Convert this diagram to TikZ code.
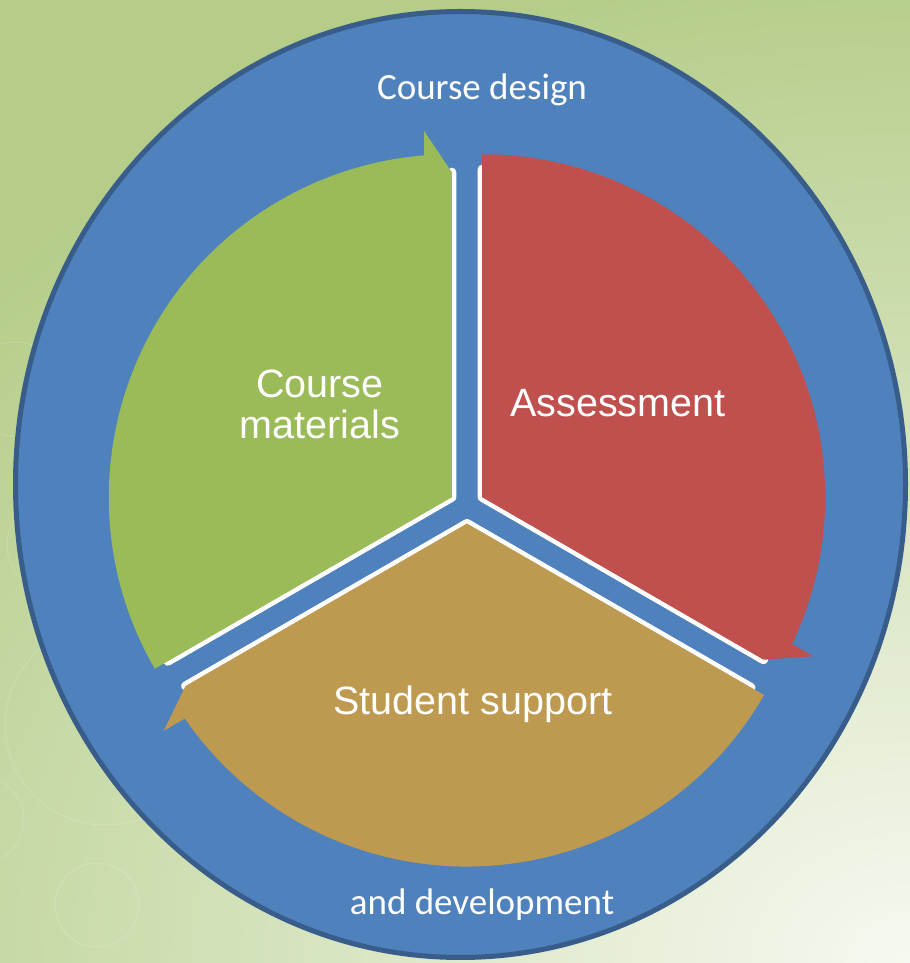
\documentclass[tikz,border=0pt]{standalone}
\usepackage{fontspec}
\setmainfont{Liberation Sans}
\newfontfamily\calibri{Carlito}
\definecolor{bgGreen}{HTML}{B5CD89}
\definecolor{bgLight}{HTML}{F6F9F1}
\definecolor{ringBlue}{HTML}{4F81BD}
\definecolor{ringEdge}{HTML}{385D8A}
\definecolor{segGreen}{HTML}{9BBB59}
\definecolor{segRed}{HTML}{C0504D}
\definecolor{segTan}{HTML}{BE9A51}
\begin{document}
\begin{tikzpicture}[x=1bp,y=1bp,
  gapline/.style={white, line width=9bp, line cap=round, line join=round},
  bubble/.style={draw=white, draw opacity=0.15, line width=1bp},
  inlabel/.style={text=white, font=\fontsize{39.5bp}{41bp}\selectfont, inner sep=0pt, align=center},
  outlabel/.style={text=white, font=\calibri\fontsize{37bp}{40bp}\selectfont, inner sep=0pt},
]
\useasboundingbox (0,0) rectangle (910,963);

% background: green with a light glow in the lower right corner
\fill[bgGreen] (0,0) rectangle (910,963);
\begin{scope}
  \clip (0,0) rectangle (910,963);
  \shade[inner color=bgLight, outer color=bgGreen] (910,0) ellipse [x radius=1250, y radius=1000];
  % faint decorative rings on the left
  \draw[bubble] (105,238) circle [radius=100];
  \draw[bubble] (97,58) circle [radius=42];
  \draw[bubble] (-20,143) circle [radius=44];
  \draw[bubble] (15,574) circle [radius=47];
  \draw[bubble] (55,418) circle [radius=48];
\end{scope}

% outer ring
\draw[fill=ringBlue, draw=ringEdge, line width=5bp] (460.5,478.5) ellipse [x radius=445, y radius=473];

% segment: course materials (arrow end at 90 deg)
\begin{scope}[shift={(451.84,465.75)}]
  \draw[gapline] (210:328) -- (0,0) -- (0,325);
  \fill[segGreen] (0,0) -- (210:343) arc[start angle=210, end angle=94.65, radius=343]
    -- (-27.84,366.25) -- (0,325) -- cycle;
\end{scope}

% segment: assessment (arrow end at -30 deg)
\begin{scope}[shift={(482.16,465.75)}, rotate=-120]
  \draw[gapline] (210:328) -- (0,0) -- (0,325);
  \fill[segRed] (0,0) -- (210:343) arc[start angle=210, end angle=94.65, radius=343]
    -- (-27.84,366.25) -- (0,325) -- cycle;
\end{scope}

% segment: student support (arrow end at 210 deg)
\begin{scope}[shift={(467,439.5)}, rotate=120]
  \draw[gapline] (210:328) -- (0,0) -- (0,325);
  \fill[segTan] (0,0) -- (210:343) arc[start angle=210, end angle=94.65, radius=343]
    -- (-27.84,366.25) -- (0,325) -- cycle;
\end{scope}

% labels
\node[outlabel, anchor=base] (design) at (482,863) {Course design};
\node[outlabel, anchor=base] (develop) at (482,48) {and development};
\node[inlabel] (materials) at (320,559) {Course\\materials};
\node[inlabel, anchor=base] (assess) at (618,546) {Assessment};
\node[inlabel, anchor=base] (support) at (473,248) {Student support};
\end{tikzpicture}
\end{document}
